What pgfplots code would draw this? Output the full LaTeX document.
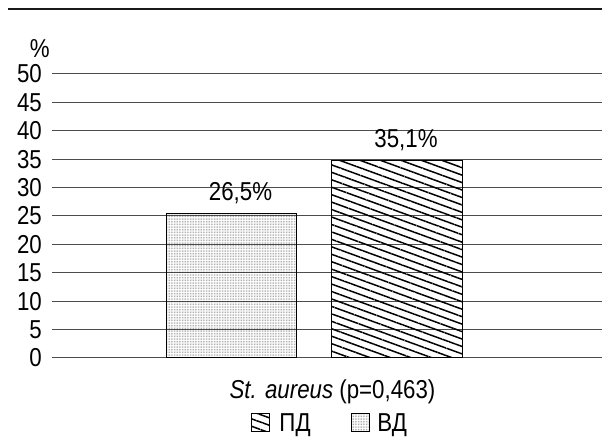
\documentclass[border=0pt]{standalone}
\usepackage{fontspec}
\setmainfont{Liberation Sans}[FakeStretch=0.86]
\usepackage{pgfplots}
\pgfplotsset{compat=1.18}
\usetikzlibrary{patterns.meta}

\newcommand{\chartfont}{\fontsize{26}{26}\selectfont}
\tikzset{
  hatchfill/.style={pattern={Lines[angle=-20,distance=7bp,line width=1.5bp]},pattern color=black},
  dotfill/.style={pattern={Dots[distance=1.6bp,radius=0.3bp]},pattern color=black!85},
}

\begin{document}
\begin{tikzpicture}
\path[use as bounding box] (0,0) rectangle (602bp,439bp);
\draw[line width=2.8bp,black!90] (8bp,430bp) -- (602bp,430bp);
\begin{axis}[
    at={(52bp,81bp)}, anchor=south west,
    scale only axis,
    width=550bp, height=284bp,
    ybar, bar shift=0pt, bar width=0.79,
    xmin=-1.085, xmax=2.239,
    ymin=0, ymax=50,
    ytick={0,5,...,50},
    xtick=\empty,
    axis line style={draw=none},
    major tick length=0pt,
    ymajorgrids,
    grid style={black!70, line width=1bp},
    /pgf/number format/assume math mode=true,
    yticklabel style={font=\chartfont, anchor=east, inner sep=0pt, xshift=-10bp},
    nodes near coords,
    point meta=explicit symbolic,
    nodes near coords style={font=\chartfont, anchor=base, inner sep=0pt, xshift=9bp, yshift=13bp},
    xlabel={\textit{St. aureus} (p=0,463)},
    xlabel style={font=\chartfont, at={(axis description cs:0.51,0)}, anchor=base, inner sep=0pt, yshift=-40bp},
    legend style={at={(axis description cs:0.505,0)}, anchor=north, yshift=-53bp,
        draw=none, fill=none, legend columns=2, font=\chartfont, inner sep=0pt,
        /tikz/every even column/.append style={column sep=38bp}},
    legend image code/.code={\draw[#1, line width=0.9bp] (0bp,-9bp) rectangle (18bp,9bp);},
    clip=false,
]
\addplot[draw=black, line width=1bp, dotfill, forget plot] coordinates {(0,25.4) [26,5\%]};
\addplot[draw=black, line width=1bp, hatchfill, forget plot] coordinates {(1,34.8) [35,1\%]};
\addlegendimage{draw=black, hatchfill}
\addlegendentry{\hspace{8bp}ПД}
\addlegendimage{draw=black, dotfill}
\addlegendentry{\hspace{6bp}ВД}
\node[font=\chartfont, anchor=base, inner sep=0pt] at (axis description cs:-0.022,1.058) {\%};
\end{axis}
\end{tikzpicture}
\end{document}
